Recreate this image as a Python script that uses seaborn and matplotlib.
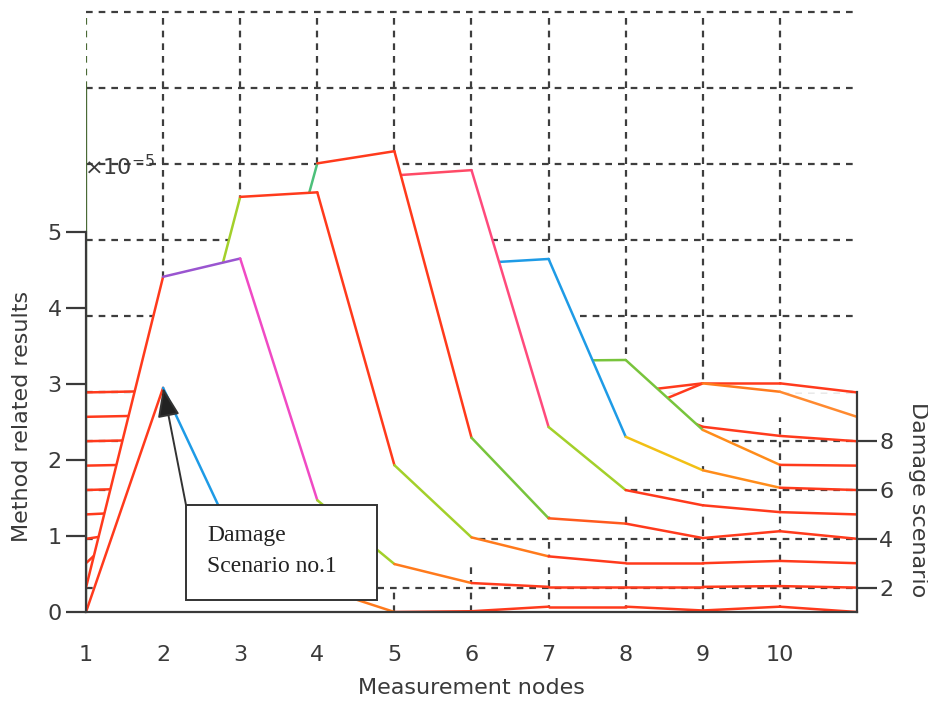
import numpy as np
import pandas as pd
import matplotlib
matplotlib.use("Agg")
import matplotlib.pyplot as plt
from matplotlib.patches import Rectangle
import seaborn as sns

# ---------------------------------------------------------------- data
nodes = np.arange(1, 12)                      # measurement nodes 1..11
node_ticks = list(range(1, 11))
z_ticks = [0, 1, 2, 3, 4, 5]                  # x 1e-5
scenario_ticks = [2, 4, 6, 8]

# method related results (x 1e-5) per damage scenario, nodes 1..11
scenario_1 = [0.00, 2.95, 0.79, 0.33, 0.00, 0.01, 0.07, 0.07, 0.02, 0.07, 0.00]
scenario_2 = [0.00, 4.09, 4.33, 1.15, 0.31, 0.06, 0.01, 0.01, 0.01, 0.02, 0.00]
scenario_3 = [0.00, 0.95, 4.82, 4.88, 1.29, 0.34, 0.09, 0.00, 0.00, 0.03, 0.00]
scenario_4 = [0.00, 0.15, 1.25, 4.94, 5.10, 1.33, 0.27, 0.20, 0.01, 0.10, 0.00]
scenario_5 = [0.00, 0.05, 0.20, 1.20, 4.46, 4.53, 1.15, 0.32, 0.12, 0.03, 0.00]
scenario_6 = [0.00, 0.03, 0.05, 0.20, 1.00, 2.98, 3.04, 0.70, 0.26, 0.03, 0.00]
scenario_7 = [0.00, 0.02, 0.03, 0.05, 0.20, 0.40, 1.38, 1.39, 0.47, 0.01, 0.00]
scenario_8 = [0.00, 0.02, 0.02, 0.03, 0.05, 0.10, 0.30, 0.60, 0.19, 0.07, 0.00]
scenario_9 = [0.00, 0.02, 0.02, 0.02, 0.03, 0.03, 0.03, 0.02, 0.44, 0.33, 0.00]
scenario_10 = [0.00, 0.02, 0.02, 0.02, 0.02, 0.02, 0.02, 0.00, 0.12, 0.12, 0.00]

scenarios = [scenario_1, scenario_2, scenario_3, scenario_4, scenario_5,
             scenario_6, scenario_7, scenario_8, scenario_9, scenario_10]

# ---------------------------------------------------------------- style
RED = "#ff3a1c"
ORANGE = "#ff7a1c"
BLUE = "#1e9be6"
YGREEN = "#a3d02a"
GREEN = "#78c43c"
segment_colors = {               # (scenario, segment node k -> k+1)
    (1, 2): BLUE, (1, 3): BLUE, (1, 4): ORANGE,
    (2, 2): "#9a55d0", (2, 3): "#f04ac4", (2, 4): YGREEN, (2, 5): ORANGE,
    (3, 2): YGREEN, (3, 5): YGREEN, (3, 6): ORANGE,
    (4, 3): "#4cc07a", (4, 6): GREEN, (4, 7): "#ff5a1e",
    (5, 5): "#ff4a66", (5, 6): "#ff4a7c", (5, 7): YGREEN,
    (6, 6): BLUE, (6, 7): BLUE, (6, 8): "#f2c014", (6, 9): "#ff8c1a",
    (7, 7): GREEN, (7, 8): GREEN, (7, 9): "#ff8c1a",
    (9, 9): ORANGE, (9, 10): "#ff8a30",
}
AXIS_COLOR = "#3a3a3a"
GRID_COLOR = "#3e3e3e"
SIDE_COLOR = "#4a6a36"
BG = "white"

DEPTH_STEP = 0.321               # screen rise per scenario (oblique view)
Y_TOP = 8.0526                   # top of the drawing area in z units
BACK = (len(scenarios) - 1) * DEPTH_STEP

sns.set_theme(style="white")
plt.rcParams["font.family"] = ["DejaVu Sans"]

fig = plt.figure(figsize=(9.29, 7.01), dpi=100, facecolor=BG)
ax = fig.add_axes([86 / 929, 89 / 701, 771 / 929, 612 / 701])
ax.set_facecolor(BG)
ax.set_xlim(nodes[0], nodes[-1])
ax.set_ylim(0, Y_TOP)


def layer_of(s):
    """Drawing depth of scenario s: the front scenario (1) sits on top."""
    return 2 + (len(scenarios) - s)


dash = dict(color=GRID_COLOR, lw=1.6, ls=(0, (3.0, 2.7)), zorder=1)

# floor grid (z = 0 plane); a depth line sits just above its own curtain
for s in scenario_ticks:
    off = (s - 1) * DEPTH_STEP
    ax.plot([nodes[0], nodes[-1]], [off, off],
            **dict(dash, zorder=layer_of(s) + 0.25))
for n in node_ticks[1:]:
    ax.plot([n, n], [0, BACK], **dash)
# back wall grid
for k in z_ticks:
    ax.plot([nodes[0], nodes[-1]], [BACK + k, BACK + k], **dash)
for n in node_ticks[1:]:
    ax.plot([n, n], [BACK, BACK + z_ticks[-1]], **dash)
# side wall along node 1, seen edge-on: overlapping grid lines read as solid
ax.plot([nodes[0]] * 2, [0, BACK + z_ticks[-2]], color=SIDE_COLOR, lw=1.7,
        zorder=1)
ax.plot([nodes[0]] * 2, [BACK + z_ticks[-2], BACK + z_ticks[-1]],
        **dict(dash, color=SIDE_COLOR))

# waterfall: back scenarios first, each front curtain hides what is behind
for idx in reversed(range(len(scenarios))):
    s = idx + 1
    off = idx * DEPTH_STEP
    vals = np.asarray(scenarios[idx]) + off
    layer = layer_of(s)
    ax.fill_between(nodes, off, vals, color=BG, lw=0, zorder=layer)
    rows = []
    for k in range(len(nodes) - 1):
        rows.append((k + 1, nodes[k], vals[k]))
        rows.append((k + 1, nodes[k + 1], vals[k + 1]))
    df = pd.DataFrame(rows, columns=["seg", "node", "height"])
    pal = {k: segment_colors.get((s, k), RED) for k in df["seg"].unique()}
    sns.lineplot(data=df, x="node", y="height", hue="seg", palette=pal,
                 estimator=None, legend=False, lw=1.8, ax=ax,
                 zorder=layer + 0.5)

# axes
for side_name in ["top", "right"]:
    ax.spines[side_name].set_visible(False)
for side_name in ["left", "bottom"]:
    ax.spines[side_name].set_color(AXIS_COLOR)
    ax.spines[side_name].set_linewidth(1.6)
    ax.spines[side_name].set_zorder(15)
ax.spines["left"].set_bounds(0, z_ticks[-1])
ax.set_xticks(node_ticks)
ax.set_xticklabels([str(n) for n in node_ticks])
ax.set_yticks(z_ticks)
ax.set_yticklabels([str(z) for z in z_ticks])
ax.tick_params(axis="x", direction="out", length=12.5, width=1.6,
               color=AXIS_COLOR, labelcolor=AXIS_COLOR, labelsize=16, pad=11)
ax.tick_params(axis="y", direction="out", length=14.5, width=1.6,
               color=AXIS_COLOR, labelcolor=AXIS_COLOR, labelsize=16, pad=3)
ax.grid(False)
ax.set_xlabel("Measurement nodes", fontsize=16, color=AXIS_COLOR)
ax.xaxis.label.set_va("center")
ax.xaxis.set_label_coords(0.5, -0.124)
ax.set_ylabel("Method related results", fontsize=16, color=AXIS_COLOR)
ax.yaxis.label.set_va("center")
ax.yaxis.set_label_coords(-0.083, 0.319)
ax.text(nodes[0] - 0.02, 5.86, "×10$^{-5}$", fontsize=16, color=AXIS_COLOR,
        ha="left", va="center", zorder=16)

# damage scenario axis on the right edge
ax2 = ax.twinx()
ax2.set_ylim(1, 1 + Y_TOP / DEPTH_STEP)
for side_name in ["top", "left", "bottom"]:
    ax2.spines[side_name].set_visible(False)
ax2.spines["right"].set_bounds(1, len(scenarios))
ax2.spines["right"].set_color(AXIS_COLOR)
ax2.spines["right"].set_linewidth(1.6)
ax2.set_yticks(scenario_ticks)
ax2.set_yticklabels([str(s) for s in scenario_ticks])
ax2.tick_params(axis="y", direction="out", length=14.5, width=1.6,
                color=AXIS_COLOR, labelcolor=AXIS_COLOR, labelsize=16, pad=1.5)
ax2.grid(False)
ax2.set_ylabel("Damage scenario", fontsize=16, color=AXIS_COLOR, rotation=270)
ax2.yaxis.label.set_va("center")
ax2.yaxis.set_label_coords(1.079, 0.183)

# callout for the first damage scenario
ax.add_patch(Rectangle((2.297, 0.158), 2.477, 1.25, fc="white",
                       ec="#333333", lw=1.4, zorder=20))
serif = ["Liberation Serif", "DejaVu Serif"]
ax.text(2.57, 0.934, "Damage", fontsize=17, family=serif, color="#222222",
        ha="left", va="baseline", zorder=21)
ax.text(2.57, 0.526, "Scenario no.1", fontsize=17, family=serif,
        color="#222222", ha="left", va="baseline", zorder=21)
ax.annotate("", xy=(nodes[1], scenario_1[1]), xytext=(2.297, 1.408),
            arrowprops=dict(arrowstyle="-|>,head_length=0.9,head_width=0.34",
                            fc="#222222", ec="#333333", lw=1.4,
                            shrinkA=0, shrinkB=0, mutation_scale=20),
            zorder=21)

fig.savefig("out.png", dpi=100, facecolor=BG)
